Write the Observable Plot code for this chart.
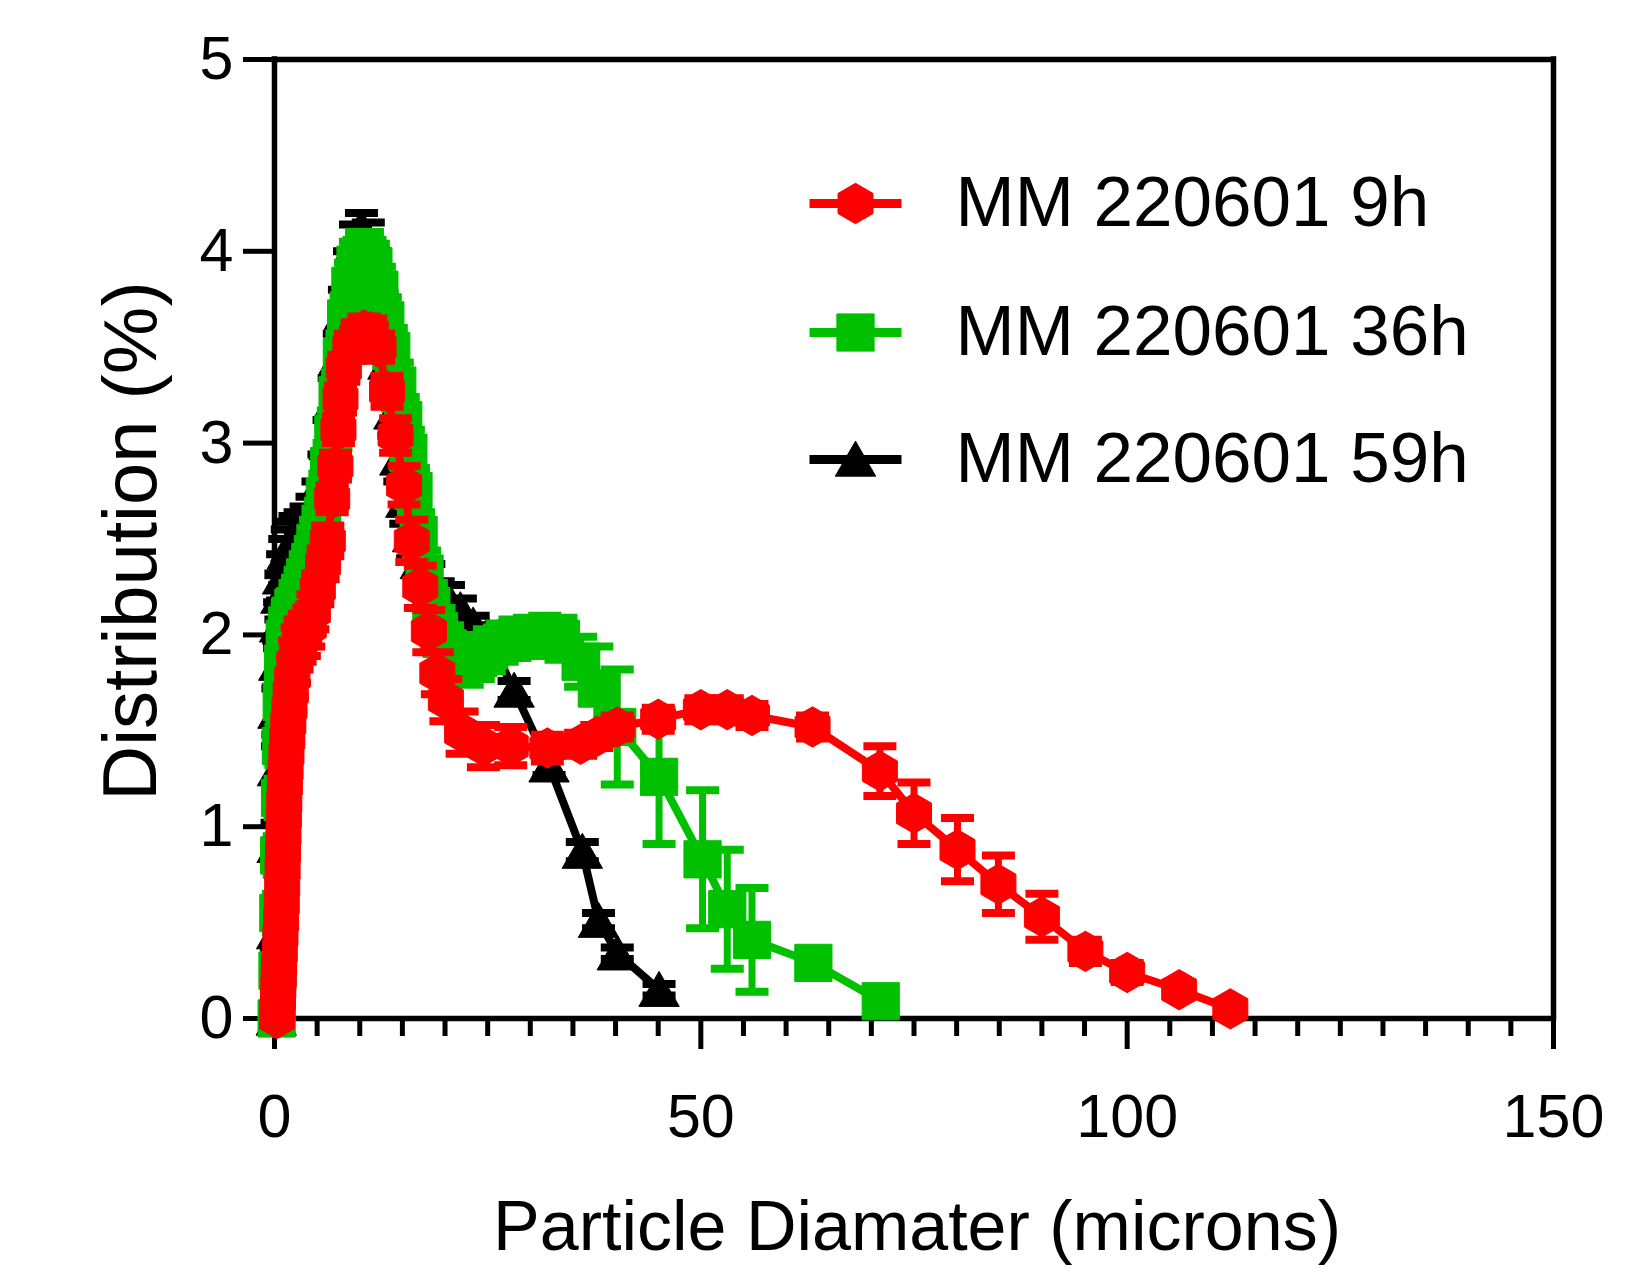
<!DOCTYPE html>
<html><head><meta charset="utf-8">
<script src="https://cdn.jsdelivr.net/npm/d3@7"></script>
<script src="https://cdn.jsdelivr.net/npm/@observablehq/plot@0.6"></script>
<style>html,body{margin:0;padding:0;background:#fff;overflow:hidden}</style>
</head><body><div id="chart"></div>
<script>
// ---- data ----
const seriesNames = ["MM 220601 9h", "MM 220601 36h", "MM 220601 59h"];
const xTitle = "Particle Diamater (microns)";
const yTitle = "Distribution (%)";
const xMajorTicks = [0, 50, 100, 150];
const xMinorTicks = [5,10,15,20,25,30,35,40,45,55,60,65,70,75,80,85,90,95,105,110,115,120,125,130,135,140,145];
const yTicks = [0, 1, 2, 3, 4, 5];

// MM 220601 9h (red)
const redX = [0.30,0.35,0.40,0.45,0.50,0.55,0.62,0.70,0.78,0.85,0.90,0.95,1.00,1.05,1.10,1.15,1.22,1.30,1.40,1.50,1.62,1.75,1.90,2.10,2.35,2.65,3.00,3.50,4.02,4.50,5.08,5.70,6.25,6.77,7.15,7.50,7.74,8.13,8.90,9.70,10.50,11.30,12.20,13.20,14.20,15.20,16.10,17.10,18.10,19.10,20.10,22.00,24.50,27.70,32.00,35.90,37.80,40.20,45.00,50.00,53.10,56.00,63.10,71.00,75.00,80.10,84.90,90.00,95.10,100.00,106.10,112.10];
const redY = [0.00,0.05,0.10,0.16,0.22,0.28,0.35,0.43,0.51,0.60,0.69,0.78,0.87,0.96,1.05,1.13,1.22,1.30,1.38,1.46,1.54,1.62,1.70,1.78,1.86,1.93,1.97,2.00,2.04,2.12,2.24,2.37,2.49,2.71,2.88,3.07,3.23,3.39,3.50,3.56,3.59,3.58,3.50,3.27,3.04,2.78,2.49,2.25,2.02,1.80,1.66,1.49,1.42,1.42,1.41,1.43,1.47,1.52,1.56,1.61,1.61,1.58,1.52,1.29,1.07,0.88,0.70,0.53,0.35,0.24,0.15,0.05];
const redErr = [0.03,0.04,0.05,0.05,0.06,0.06,0.06,0.06,0.06,0.06,0.07,0.07,0.07,0.07,0.07,0.08,0.08,0.08,0.08,0.08,0.09,0.09,0.10,0.10,0.11,0.11,0.11,0.11,0.10,0.09,0.08,0.08,0.08,0.07,0.07,0.07,0.07,0.07,0.07,0.07,0.07,0.07,0.07,0.08,0.09,0.10,0.11,0.11,0.11,0.11,0.11,0.11,0.11,0.10,0.07,0.06,0.06,0.06,0.06,0.06,0.06,0.06,0.06,0.13,0.16,0.165,0.15,0.12,0.06,0.05,0.04,0.03];

// MM 220601 36h (green)
const greenX = [0.25,0.35,0.45,0.55,0.65,0.75,0.85,1.00,1.20,1.50,1.90,2.40,3.00,3.60,4.20,4.80,5.40,5.90,6.40,6.90,7.40,7.90,8.40,8.90,9.50,10.20,10.90,11.60,12.30,13.00,13.70,14.40,15.10,15.70,16.30,16.90,17.60,18.40,19.30,20.30,21.40,22.60,23.90,25.20,26.70,28.20,29.90,31.70,33.60,35.90,37.80,40.20,45.10,50.20,53.10,56.00,63.20,71.10];
const greenY = [0.00,0.25,0.55,0.85,1.15,1.42,1.65,1.85,1.98,2.05,2.10,2.15,2.22,2.30,2.38,2.48,2.58,2.72,2.88,3.05,3.25,3.45,3.65,3.82,3.93,3.98,3.98,3.92,3.80,3.64,3.48,3.30,3.12,2.95,2.75,2.52,2.32,2.15,2.02,1.93,1.88,1.86,1.88,1.92,1.96,1.98,1.99,2.00,1.98,1.86,1.72,1.52,1.26,0.83,0.57,0.41,0.29,0.09];
const greenErr = [0.05,0.08,0.10,0.10,0.10,0.10,0.10,0.12,0.12,0.12,0.12,0.12,0.12,0.12,0.12,0.12,0.12,0.12,0.12,0.12,0.12,0.12,0.12,0.12,0.12,0.12,0.12,0.12,0.12,0.12,0.12,0.12,0.12,0.12,0.12,0.12,0.12,0.12,0.12,0.12,0.12,0.12,0.11,0.11,0.10,0.10,0.10,0.10,0.11,0.13,0.22,0.30,0.35,0.36,0.31,0.27,0.05,0.03];

// MM 220601 59h (black)
const blackX = [0.20,0.25,0.30,0.35,0.40,0.50,0.60,0.75,0.95,1.20,1.50,1.90,2.40,3.00,3.70,4.40,5.10,5.80,6.40,7.00,7.60,8.20,8.80,9.50,10.20,11.00,11.80,12.60,13.30,14.00,14.70,15.40,16.20,17.10,18.10,19.20,20.40,21.80,23.30,25.00,28.10,32.20,36.10,38.00,40.20,45.10];
const blackY = [0.00,0.45,0.90,1.30,1.60,1.85,2.05,2.20,2.30,2.38,2.43,2.47,2.50,2.52,2.55,2.60,2.68,2.82,3.00,3.22,3.45,3.68,3.88,4.04,4.12,4.05,3.88,3.66,3.42,3.16,2.92,2.70,2.52,2.38,2.27,2.20,2.18,2.13,2.05,2.00,1.71,1.32,0.87,0.51,0.34,0.15];
const blackErr = [0.03,0.10,0.12,0.12,0.12,0.12,0.12,0.12,0.12,0.12,0.12,0.12,0.12,0.12,0.12,0.12,0.12,0.12,0.12,0.12,0.12,0.12,0.12,0.10,0.08,0.10,0.12,0.12,0.12,0.12,0.12,0.12,0.12,0.12,0.10,0.08,0.08,0.06,0.05,0.05,0.05,0.05,0.05,0.04,0.03,0.03];

// ---- styling ----
const FONT = "'Liberation Sans', Arial, Helvetica, sans-serif";
const series = [
  {name: seriesNames[0], xs: redX,   ys: redY,   es: redErr,   color: "#ff0000", symbol: "hexagon",  r: 17.5, dy: 0},
  {name: seriesNames[1], xs: greenX, ys: greenY, es: greenErr, color: "#00c000", symbol: "square",   r: 21,   dy: 0},
  {name: seriesNames[2], xs: blackX, ys: blackY, es: blackErr, color: "#000000", symbol: "triangle", r: 15,   dy: 5}
];
series.forEach(s => { s.rows = s.xs.map((x, i) => ({x, y: s.ys[i], e: s.es[i]})); });

const capSym = {draw(ctx) { ctx.moveTo(-16.5, 0); ctx.lineTo(16.5, 0); }};
const legLineSym = {draw(ctx) { ctx.moveTo(-46, 0); ctx.lineTo(46, 0); }};

const marks = [];
// frame / axis lines
marks.push(Plot.ruleY([0], {strokeWidth: 5.5, strokeLinecap: "square"}));
marks.push(Plot.ruleY([5], {strokeWidth: 5.5, strokeLinecap: "square"}));
marks.push(Plot.ruleX([0], {strokeWidth: 5.5, strokeLinecap: "square"}));
marks.push(Plot.ruleX([150], {strokeWidth: 5.5, strokeLinecap: "square"}));
marks.push(Plot.axisY(yTicks, {tickSize: 31, tickPadding: 10, fontSize: 61, strokeWidth: 5, label: null, tickFormat: d => String(d), fontFamily: FONT}));
marks.push(Plot.axisX(xMinorTicks, {tickSize: 18, tickFormat: () => "", strokeWidth: 5, label: null}));
marks.push(Plot.axisX(xMajorTicks, {tickSize: 31, tickPadding: 44, fontSize: 61, strokeWidth: 5, label: null, tickFormat: d => String(d), fontFamily: FONT}));

// series: black first, then green, then red on top
[2, 1, 0].forEach(k => {
  const s = series[k];
  marks.push(Plot.line(s.rows, {x: "x", y: "y", stroke: s.color, strokeWidth: 8}));
  marks.push(Plot.ruleX(s.rows, {x: "x", y1: d => d.y - d.e, y2: d => d.y + d.e, stroke: s.color, strokeWidth: 7}));
  marks.push(Plot.dot(s.rows, {x: "x", y: d => d.y + d.e, symbol: capSym, r: 5, stroke: s.color, fill: "none", strokeWidth: 8}));
  marks.push(Plot.dot(s.rows, {x: "x", y: d => d.y - d.e, symbol: capSym, r: 5, stroke: s.color, fill: "none", strokeWidth: 8}));
  marks.push(Plot.dot(s.rows, {x: "x", y: "y", symbol: s.symbol, r: s.r, fill: s.color, stroke: s.color, strokeWidth: 1, dy: s.dy}));
});

// legend (pixel offsets from the top-left of the frame)
const legendRowDy = [144, 273, 400];
series.forEach((s, i) => {
  marks.push(Plot.dot([s.name], {frameAnchor: "top-left", dx: 581, dy: legendRowDy[i], symbol: legLineSym, r: 5, stroke: s.color, fill: "none", strokeWidth: 9}));
  marks.push(Plot.dot([s.name], {frameAnchor: "top-left", dx: 581, dy: legendRowDy[i] + s.dy, symbol: s.symbol, r: s.r, fill: s.color, stroke: s.color, strokeWidth: 1}));
  marks.push(Plot.text([s.name], {frameAnchor: "top-left", dx: 681, dy: legendRowDy[i], text: d => d, textAnchor: "start", lineAnchor: "middle", fontSize: 71, fontFamily: FONT, fill: "black"}));
});

// axis titles
marks.push(Plot.text([xTitle], {frameAnchor: "bottom", dx: 3, dy: 231, text: d => d, textAnchor: "middle", lineAnchor: "bottom", fontSize: 70, fontFamily: FONT, fill: "black"}));
marks.push(Plot.text([yTitle], {frameAnchor: "left", dx: -119, dy: 2, text: d => d, rotate: -90, textAnchor: "middle", lineAnchor: "bottom", fontSize: 76, fontFamily: FONT, fill: "black"}));

const chart = Plot.plot({
  width: 1643,
  height: 1270,
  marginLeft: 274,
  marginRight: 90,
  marginTop: 59,
  marginBottom: 252,
  x: {domain: [0, 150]},
  y: {domain: [0, 5]},
  style: {fontFamily: FONT, background: "white", color: "black", overflow: "visible"},
  marks
});
document.getElementById("chart").appendChild(chart);
</script></body></html>
